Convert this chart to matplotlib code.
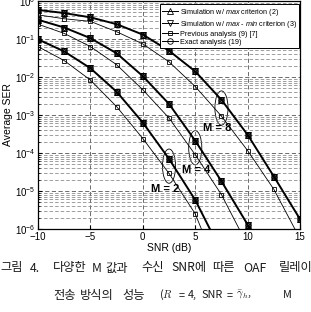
import numpy as np
import matplotlib
matplotlib.use('Agg')
import matplotlib.pyplot as plt
from matplotlib.lines import Line2D
from matplotlib.patches import Ellipse

plt.rcParams['font.family'] = ['Liberation Sans', 'DejaVu Sans']
plt.rcParams['mathtext.fontset'] = 'custom'
plt.rcParams['mathtext.rm'] = 'Liberation Sans'
plt.rcParams['mathtext.it'] = 'Liberation Sans:italic'

# ── data ───────────────────────────────────────────────────────────────────
nan = np.nan
snr = [-10, -7.5, -5, -2.5, 0, 2.5, 5, 7.5, 10, 12.5, 15]

sim_m2 = [9.8e-2, 4.7e-2, 1.7e-2, 4.1e-3, 6.3e-4, 7.0e-5, 5.8e-6, 2.5e-7, nan, nan, nan]
prev_m2 = [6.3e-2, 2.7e-2, 8.3e-3, 1.66e-3, 2.4e-4, 2.9e-5, 2.5e-6, 5.0e-8, nan, nan, nan]
sim_m4 = [0.32, 0.20, 0.105, 4.2e-2, 1.05e-2, 1.95e-3, 2.1e-4, 1.8e-5, 1.3e-6, 6e-8, nan]
prev_m4 = [0.245, 0.14, 6.3e-2, 2.1e-2, 4.6e-3, 8.3e-4, 9.0e-5, 8.0e-6, 3.7e-7, nan, nan]
sim_m8 = [0.58, 0.48, 0.37, 0.245, 0.13, 4.9e-2, 1.4e-2, 2.5e-3, 3.0e-4, 2.4e-5, 1.8e-6]
prev_m8 = [0.43, 0.34, 0.29, 0.155, 7.4e-2, 2.5e-2, 5.6e-3, 9.3e-4, 1.15e-4, 1.1e-5, 5.5e-7]

sims = [sim_m2, sim_m4, sim_m8]
prevs = [prev_m2, prev_m4, prev_m8]
m_labels = ['M = 2', 'M = 4', 'M = 8']
ell_snr = [2.5, 5, 7.5]
lab_x = [2.1, 5.1, 7.1]
lab_y = [1.1e-5, 3.5e-5, 4.5e-4]

legend_labels = [r'Simulation w/ $\mathit{max}$ criterion (2)',
                 r'Simulation w/ $\mathit{max}$ - $\mathit{min}$ criterion (3)',
                 'Previous analysis (9) [7]',
                 'Exact analysis (19)']

# caption words (Korean figure caption, cut off on the right like the scan)
cap1_words = ['그림', '4.', '다양한', 'M', '값과', '수신', 'SNR에', '따른', 'OAF', '릴레이']
cap1_x = [0, 30, 53, 92, 105, 141, 171, 212, 243, 279]
cap2_words = ['전송', '방식의', '성능', '($R$', '=', '4,', 'SNR', '=', r'$\bar{\gamma}_h$,', 'M']
cap2_x = [53, 80, 122, 159, 179, 188, 202, 227, 236, 283]

fig = plt.figure(figsize=(3.11, 3.12), dpi=100)
ax = fig.add_axes([0.122, 0.266, 0.843, 0.731])

for s, p in zip(sims, prevs):
    ax.semilogy(snr, p, color='black', lw=0.6, marker='s', ms=3.5, mfc='none', mew=0.6)
    ax.semilogy(snr, s, color='black', lw=1.4)
    for mk in ['^', 'v', 'o']:
        ax.semilogy(snr, s, ls='none', color='black', marker=mk, ms=4, mfc='none', mew=0.7)

ax.set_xlim(-10, 15)
ax.set_ylim(1e-6, 1)
ax.set_xticks([-10, -5, 0, 5, 10, 15])
ax.set_yticks([10.0 ** k for k in range(-6, 1)])
ax.set_yticklabels([r'$10^{%d}$' % k for k in range(-6, 1)])
ax.tick_params(which='both', direction='in', labelsize=7, pad=2)
ax.tick_params(which='minor', length=1.5)
ax.tick_params(which='major', length=3)
ax.grid(True, which='major', ls=(0, (5, 3)), color='#555555', lw=0.6)
ax.grid(True, which='minor', axis='y', ls=(0, (5, 3)), color='#777777', lw=0.5)
for sp in ax.spines.values():
    sp.set_linewidth(0.9)
ax.set_xlabel('SNR (dB)', fontsize=7.5, labelpad=1)
ax.set_ylabel('Average SER', fontsize=7.5, labelpad=1)

# ellipses grouping the sim/prev pair at one SNR
fig.canvas.draw()
to_axes = ax.transAxes.inverted()
for i in range(3):
    k = snr.index(ell_snr[i])
    ya = np.sqrt(sims[i][k] * prevs[i][k])
    cx, cy = to_axes.transform(ax.transData.transform((ell_snr[i], ya)))
    ax.add_patch(Ellipse((cx, cy), 0.05, 0.15, transform=ax.transAxes,
                         fill=False, ec='black', lw=0.6))
    ax.text(lab_x[i], lab_y[i], m_labels[i], fontsize=8, fontweight='bold',
            ha='center', va='center')

handles = [Line2D([], [], color='black', lw=0.7, marker='^', ms=4, mfc='none', mew=0.6),
           Line2D([], [], color='black', lw=0.7, marker='v', ms=4, mfc='none', mew=0.6),
           Line2D([], [], color='black', lw=0.7, marker='s', ms=3.5, mfc='none', mew=0.6),
           Line2D([], [], color='black', lw=0.7, marker='o', ms=4, mfc='none', mew=0.6)]
leg = ax.legend(handles, legend_labels, loc='upper right', fontsize=5.2, frameon=True,
                fancybox=False, edgecolor='black', framealpha=1, handlelength=2.2,
                handletextpad=0.3, borderpad=0.3, labelspacing=0.15,
                bbox_to_anchor=(0.997, 0.985), borderaxespad=0)
leg.get_frame().set_linewidth(0.7)

cjk = ['Noto Sans CJK KR', 'DejaVu Sans']
W, H = 311.0, 312.0
for w, x in zip(cap1_words, cap1_x):
    fig.text(x / W, 1 - 268 / H, w, fontsize=8.8, family=cjk, va='center', ha='left',
             color='#1a1a1a')
for w, x in zip(cap2_words, cap2_x):
    fig.text(x / W, 1 - 295 / H, w, fontsize=8.8 if w[0] > '\u1000' else 7.8,
             family=cjk, va='center', ha='left', color='#1a1a1a', math_fontfamily='cm')

fig.savefig('out.png', dpi=100)
